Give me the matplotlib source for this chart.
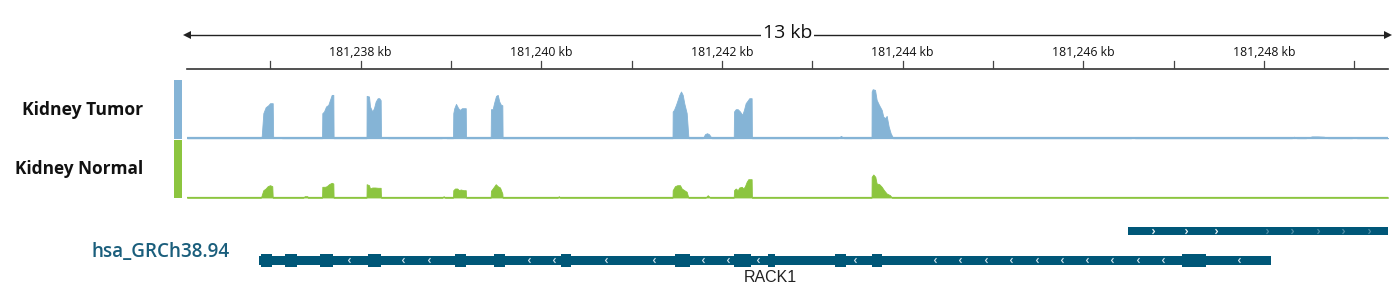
import numpy as np
import matplotlib
matplotlib.use("Agg")
import matplotlib.pyplot as plt
from matplotlib.patches import Rectangle
from matplotlib.path import Path

plt.rcParams['font.family'] = ['Open Sans', 'DejaVu Sans']

# --- DATA (positions in kb on chr5) ---

X_START = 181236.077
X_END = 181249.373
TICKS_KB = list(range(181237, 181250))
TICK_LABELS_KB = [181238, 181240, 181242, 181244, 181246, 181248]
SPAN_LABEL = "13 kb"

tumor_pos = [
    181236.896, 181236.904, 181236.922, 181236.948, 181236.977, 181236.996, 181237.026, 181237.031,
    181237.037, 181237.118, 181237.129,
    181237.572, 181237.575, 181237.594, 181237.616, 181237.641, 181237.660, 181237.679, 181237.697, 181237.700,
    181238.064, 181238.066, 181238.092, 181238.103, 181238.128, 181238.147, 181238.166, 181238.188, 181238.206, 181238.221, 181238.225,
    181238.230, 181238.295, 181238.302,
    181238.897, 181238.925, 181238.952,
    181239.022, 181239.025, 181239.036, 181239.055, 181239.080, 181239.099, 181239.121, 181239.143, 181239.163, 181239.166,
    181239.439, 181239.442, 181239.461, 181239.476, 181239.498, 181239.517, 181239.534, 181239.553, 181239.568, 181239.571,
    181241.452, 181241.454, 181241.468, 181241.490, 181241.509, 181241.527, 181241.546, 181241.565, 181241.582, 181241.609, 181241.627, 181241.630,
    181241.789, 181241.811, 181241.834, 181241.856, 181241.886,
    181242.130, 181242.133, 181242.152, 181242.174, 181242.199, 181242.224, 181242.243, 181242.262, 181242.284, 181242.302, 181242.328, 181242.331,
    181243.284, 181243.317, 181243.350,
    181243.655, 181243.657, 181243.668, 181243.694, 181243.712, 181243.738, 181243.768, 181243.785, 181243.804, 181243.823, 181243.845, 181243.867, 181243.889, 181243.893,
    181246.528, 181246.550, 181246.572,
    181248.310, 181248.332, 181248.365,
    181248.465, 181248.531, 181248.597, 181248.664, 181248.708,
    181248.974, 181248.996, 181249.030,
]
tumor_cov = [
    0, 2, 25, 31, 33, 35, 35, 0,
    1, 1, 0,
    0, 25, 26.7, 31.7, 33.3, 38.3, 43.3, 43.3, 0,
    0, 42.3, 41.7, 31.7, 26.7, 30, 36.7, 40, 40, 38, 0,
    1, 1, 0,
    0, 1, 0,
    0, 25, 30, 34.3, 30, 28.3, 30, 30, 30, 0,
    0, 29, 29, 35, 42.3, 43.3, 36.7, 33.3, 33, 0,
    0, 26.7, 28.3, 33.3, 38.3, 43.3, 46.7, 43.3, 35, 25, 2, 0,
    0, 4, 5, 4, 0,
    0, 26.7, 29, 29, 26.7, 23.3, 28.3, 35, 37.7, 40, 40, 0,
    0, 2.3, 0,
    0, 46.7, 49, 48.3, 38.3, 33.3, 28.3, 21.7, 20, 22.3, 11.7, 5, 1, 0,
    0, 1.2, 0,
    0, 1.5, 0,
    0, 1.8, 1.8, 1.5, 0,
    0, 1.2, 0,
]

normal_pos = [
    181236.896, 181236.904, 181236.922, 181236.948, 181236.970, 181236.996, 181237.021, 181237.026,
    181237.365, 181237.380, 181237.410, 181237.413,
    181237.572, 181237.575, 181237.605, 181237.624, 181237.649, 181237.679, 181237.697, 181237.700,
    181238.064, 181238.066, 181238.092, 181238.103, 181238.128, 181238.158, 181238.191, 181238.221, 181238.225,
    181238.903, 181238.918, 181238.933,
    181239.022, 181239.025, 181239.044, 181239.069, 181239.088, 181239.107, 181239.136, 181239.163, 181239.166,
    181239.439, 181239.442, 181239.461, 181239.495, 181239.517, 181239.542, 181239.568, 181239.571,
    181240.181, 181240.193, 181240.206,
    181241.452, 181241.454, 181241.479, 181241.505, 181241.535, 181241.554, 181241.582, 181241.609, 181241.627,
    181241.819, 181241.842, 181241.867,
    181242.130, 181242.133, 181242.152, 181242.174, 181242.191, 181242.218, 181242.237, 181242.254, 181242.273, 181242.291, 181242.328, 181242.331,
    181243.655, 181243.657, 181243.675, 181243.697, 181243.712, 181243.741, 181243.768, 181243.793, 181243.823, 181243.860, 181243.879,
]
normal_cov = [
    0, 2.3, 7.3, 9, 11.3, 12.3, 11.3, 0,
    0, 1.3, 1.3, 0,
    0, 10.7, 10.7, 11.3, 13.3, 14.7, 14, 0,
    0, 13.3, 12.3, 9, 10, 10, 9.7, 9.7, 0,
    0, 1.3, 0,
    0, 7.3, 9, 9, 7.3, 8, 7.3, 7.3, 0,
    0, 6.7, 9, 13.3, 11.3, 10, 4, 0,
    0, 1.3, 0,
    0, 7.3, 11.3, 12.3, 12.3, 9, 7.3, 5.7, 0,
    0, 2.3, 0,
    0, 7.3, 9, 7.3, 10, 10.7, 9, 11.3, 15.7, 18.3, 18.3, 0,
    0, 20.7, 23, 20.7, 14, 13.3, 10.7, 7.3, 4, 2.3, 0,
]

# RACK1 (minus strand) and the overlapping plus-strand transcript
rack1_span = (181236.874, 181248.077)
rack1_exon_start = [181236.896, 181237.161, 181237.546, 181238.081, 181239.048, 181239.476, 181240.212,
                    181241.484, 181242.136, 181242.512, 181243.251, 181243.657, 181247.095]
rack1_exon_end = [181237.014, 181237.291, 181237.689, 181238.225, 181239.166, 181239.597, 181240.328,
                  181241.642, 181242.317, 181242.586, 181243.369, 181243.768, 181247.355]
rack1_arrows = [181237.876, 181238.472, 181238.756, 181239.863, 181240.140, 181240.716, 181241.247,
                181241.789, 181242.066, 181242.398, 181243.472, 181244.358, 181244.635, 181244.922,
                181245.199, 181245.487, 181245.764, 181246.040, 181246.317, 181246.605, 181246.882, 181247.723]
upper_span = (181246.498, 181249.5)
upper_arrows = [181246.766, 181247.136, 181247.468, 181248.033, 181248.315, 181248.598, 181248.880, 181249.162]

TRACK_NAMES = ["Kidney Tumor", "Kidney Normal"]
GENOME_NAME = "hsa_GRCh38.94"
GENE_NAME = "RACK1"

TUMOR_COLOR = '#85b4d6'
NORMAL_COLOR = '#8cc53f'
GENE_COLOR = '#005778'

# --- FIGURE ---

W, H = 1400, 307
fig = plt.figure(figsize=(W / 100, H / 100), dpi=100)


def px_axes(x0, y0, x1, y1):
    # pixel box (top-left origin) -> figure axes
    return fig.add_axes([x0 / W, 1 - y1 / H, (x1 - x0) / W, (y1 - y0) / H])


LEFT, RIGHT = 187, 1388

# ruler
ax_r = px_axes(LEFT - 10, 18, RIGHT + 10, 75)
ax_r.set_xlim(X_START - 10 / 90.33, X_END + 10 / 90.33)
ax_r.set_ylim(75, 18)
ax_r.axis('off')
ax_r.plot([X_START, X_END], [34.5, 34.5], color='#222222', lw=1)
ax_r.plot([X_START], [34.5], marker='<', color='#222222', ms=6, mew=0)
ax_r.plot([X_END], [34.5], marker='>', color='#222222', ms=6, mew=0)
ax_r.text((X_START + X_END) / 2, 33.5, SPAN_LABEL, ha='center', va='center', fontsize=14,
          color='#111111', bbox=dict(facecolor='white', edgecolor='none', pad=1.5))
ax_r.plot([X_START, X_END], [68.8, 68.8], color='#333333', lw=1.2)
for t in TICKS_KB:
    ax_r.plot([t, t], [60.5, 68], color='#444444', lw=0.9)
for t in TICK_LABELS_KB:
    ax_r.text(t, 52.5, f"{t:,} kb", ha='center', va='center', fontsize=8.8, color='#111111')


def coverage_track(y0, y1, pos, cov, color):
    ax = px_axes(LEFT, y0, RIGHT, y1)
    xs = np.concatenate([[X_START], pos, [X_END]])
    ys = np.concatenate([[0], cov, [0]])
    ax.fill_between(xs, 0, ys, color=color, lw=0.6, edgecolor=color)
    ax.axhline(0, color=color, lw=1.6)
    ax.set_xlim(X_START, X_END)
    ax.set_ylim(-0.8, (y1 - y0) - 0.8)
    ax.axis('off')
    return ax


coverage_track(80, 139, tumor_pos, tumor_cov, TUMOR_COLOR)
coverage_track(140, 198.3, normal_pos, normal_cov, NORMAL_COLOR)

# colour swatches left of the tracks
fig.patches.append(Rectangle((174 / W, 1 - 138.5 / H), 8 / W, 58.5 / H, transform=fig.transFigure,
                             color=TUMOR_COLOR, lw=0))
fig.patches.append(Rectangle((174 / W, 1 - 198 / H), 8 / W, 58 / H, transform=fig.transFigure,
                             color=NORMAL_COLOR, lw=0))

fig.text(143.5 / W, 1 - 110 / H, TRACK_NAMES[0], ha='right', va='center', fontsize=12.6,
         fontweight='bold', color='#111111')
fig.text(143.5 / W, 1 - 168.5 / H, TRACK_NAMES[1], ha='right', va='center', fontsize=12.4,
         fontweight='bold', color='#111111')
fig.text(229.5 / W, 1 - 252 / H, GENOME_NAME, ha='right', va='center', fontsize=13.6,
         fontweight='semibold', color='#1a5e7c')

# gene track
ax_g = px_axes(LEFT, 215, RIGHT, 290)
ax_g.set_xlim(X_START, X_END)
ax_g.set_ylim(290, 215)
ax_g.axis('off')

ax_g.add_patch(Rectangle((upper_span[0], 226.7), upper_span[1] - upper_span[0], 8, color=GENE_COLOR, lw=0))
ax_g.add_patch(Rectangle((rack1_span[0], 256), rack1_span[1] - rack1_span[0], 8.5, color=GENE_COLOR, lw=0))
for s, e in zip(rack1_exon_start, rack1_exon_end):
    ax_g.add_patch(Rectangle((s, 253.5), e - s, 13, color=GENE_COLOR, lw=0))

left_chev = Path([(0.4, 1), (-0.4, 0), (0.4, -1)], [Path.MOVETO, Path.LINETO, Path.LINETO])
right_chev = Path([(-0.4, 1), (0.4, 0), (-0.4, -1)], [Path.MOVETO, Path.LINETO, Path.LINETO])
ax_g.plot(rack1_arrows, [260.2] * len(rack1_arrows), ls='none', marker=left_chev, ms=3.5,
          mfc='none', mec='#d8e6ee', mew=0.8)
ax_g.plot(upper_arrows[:3], [230.7] * 3, ls='none', marker=right_chev, ms=3.5,
          mfc='none', mec='#e8f0f4', mew=0.9)
ax_g.plot(upper_arrows[3:], [230.7] * (len(upper_arrows) - 3), ls='none', marker=right_chev, ms=3.5,
          mfc='none', mec='#4d8aa3', mew=0.9)

ax_g.text(181242.539, 277.5, GENE_NAME, ha='center', va='center', fontsize=11.5,
          family=['Liberation Sans', 'DejaVu Sans'], color='#222222')

fig.savefig('out.png', dpi=100)
